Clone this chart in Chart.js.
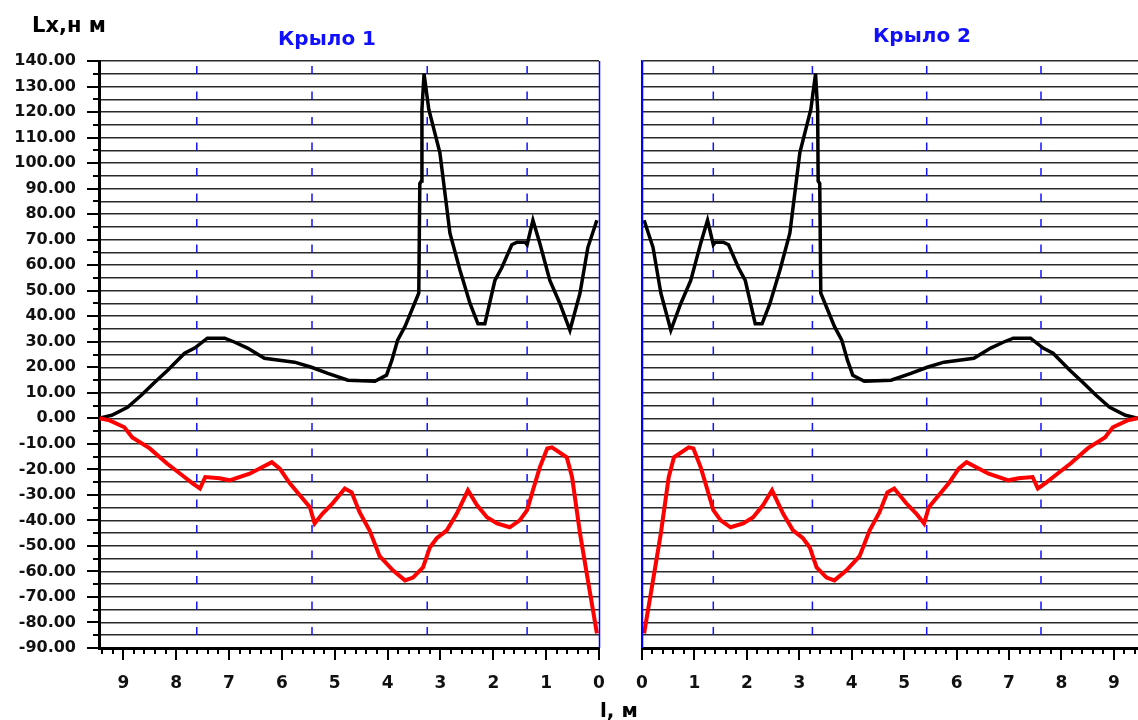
<!DOCTYPE html>
<html lang="ru">
<head>
<meta charset="UTF-8">
<title>Lx — Крыло 1 / Крыло 2</title>
<script src="https://cdn.jsdelivr.net/npm/chart.js"></script>
<style>
    body { margin: 0; background: #fff; font-family: 'DejaVu Sans', sans-serif; }
    .wrap { position: relative; width: 1138px; height: 720px; overflow: hidden; }
    #wing1 { position: absolute; left: 0; top: 0; }
    #wing2 { position: absolute; left: 600px; top: 0; }
    .lbl { position: absolute; font-weight: bold; line-height: 1; white-space: nowrap; }
    .title { color: #1010ff; font-size: 20px; transform: translateX(-50%); }
</style>
</head>
<body>
<div class="wrap">
    <canvas id="wing1" width="614" height="720"></canvas>
    <canvas id="wing2" width="538" height="720"></canvas>
    <div class="lbl" style="left:32px; top:15px; font-size:21px;">Lx,н м</div>
    <div class="lbl title" style="left:327px; top:28px;">Крыло 1</div>
    <div class="lbl title" style="left:922px; top:25px;">Крыло 2</div>
    <div class="lbl" style="left:600px; top:700px; font-size:20px;">l, м</div>
</div>
<script>
    // span position, m (tip at ~9.45, root at 0)
    const posUpper = [9.47, 9.22, 8.92, 8.66, 8.41, 8.16, 7.84, 7.65, 7.41, 7.08, 6.89, 6.65, 6.33, 5.76, 5.44,
        5.13, 4.75, 4.24, 4.02, 3.92, 3.81, 3.67, 3.52, 3.41, 3.39, 3.36, 3.35, 3.31, 3.22, 3.01, 2.82, 2.63,
        2.44, 2.29, 2.16, 1.97, 1.84, 1.65, 1.55, 1.40, 1.36, 1.25, 1.12, 0.93, 0.74, 0.55, 0.36, 0.21, 0.04];
    const lxUpper = [0, 1.2, 4.3, 9, 14, 18.8, 25.5, 27.5, 31.4, 31.4, 29.8, 27.5, 23.5, 22, 20,
        17.6, 14.9, 14.5, 16.9, 22.7, 30.6, 36, 43.5, 49, 92, 93, 121, 135, 121, 104, 72.5, 58,
        45, 37, 37, 54, 59, 68, 69, 69, 68, 77.6, 68.6, 54, 45, 34.5, 49, 67, 77.6];

    const posLower = [9.45, 9.26, 8.98, 8.83, 8.5, 8.18, 7.88, 7.69, 7.55, 7.45, 7.18, 6.99, 6.61, 6.19, 6.04,
        5.85, 5.47, 5.38, 5.23, 5.04, 4.81, 4.68, 4.53, 4.34, 4.15, 3.9, 3.67, 3.52, 3.33, 3.2, 3.07, 2.88,
        2.69, 2.48, 2.31, 2.12, 1.93, 1.69, 1.5, 1.36, 1.25, 1.12, 0.98, 0.89, 0.61, 0.51, 0.36, 0.21, 0.04];
    const lxLower = [0, -0.8, -3.5, -7.5, -11.8, -17.6, -22.4, -25.5, -27.5, -23, -23.5, -24.3, -21.7, -17.2, -19.7,
        -25.5, -34.8, -41.2, -37.3, -33.3, -27.5, -29, -36.8, -44, -54, -59.6, -63.5, -62.4, -58.4, -50.6, -47, -43.9,
        -37.3, -28.2, -34, -38.8, -41.2, -42.7, -40, -36, -28.2, -19.2, -11.8, -11.4, -15.3, -23, -45, -63.5, -84.3];

    // rib stations (dashed verticals)
    const stationPos = [1.36, 3.25, 5.43, 7.61];

    // axis ticks
    const xTickLabels = [0, 1, 2, 3, 4, 5, 6, 7, 8, 9];
    const xMin = 0, xMax = 9.46, xMinorStep = 0.2;
    const yMin = -90, yMax = 140, yStep = 5;

    const toPoints = (xs, ys) => xs.map((v, i) => ({ x: v, y: ys[i] }));

    // small tick marks on axes + blue root edge
    const axisMarks = {
        id: 'axisMarks',
        afterDraw(chart, args, opts) {
            const { ctx, chartArea: area, scales: { x, y } } = chart;
            ctx.save();
            ctx.strokeStyle = '#000';
            ctx.lineWidth = 2;
            ctx.beginPath();
            for (let i = 0; i * xMinorStep <= x.max + 1e-9; i++) {
                const px = Math.round(x.getPixelForValue(i * xMinorStep));
                const len = i % 5 === 0 ? 12 : 6;
                ctx.moveTo(px, area.bottom);
                ctx.lineTo(px, area.bottom + len);
            }
            if (opts.yTicks) {
                for (let v = yMin; v <= yMax; v += yStep) {
                    const py = Math.round(y.getPixelForValue(v));
                    const len = v % 10 === 0 ? 12 : 6;
                    ctx.moveTo(area.left, py);
                    ctx.lineTo(area.left - len, py);
                }
            }
            ctx.stroke();
            if (opts.edge) {
                const px = Math.round(x.getPixelForValue(0)) + 0.5;
                ctx.strokeStyle = '#0000ff';
                ctx.lineWidth = 1.5;
                ctx.beginPath();
                ctx.moveTo(px, area.top);
                ctx.lineTo(px, area.bottom);
                ctx.stroke();
            }
            ctx.restore();
        }
    };

    Chart.defaults.font.family = "'DejaVu Sans', sans-serif";
    Chart.defaults.color = '#111';

    function makeWing(id, leftSide) {
        const stationSets = stationPos.map(s => ({
            data: [{ x: s, y: yMax }, { x: s, y: yMin }],
            borderColor: '#1414ff',
            borderWidth: 1.5,
            borderDash: [8, 17.5],
            borderDashOffset: 20.5,
            pointRadius: 0,
            showLine: true,
            order: 10
        }));
        return new Chart(document.getElementById(id), {
            type: 'scatter',
            data: {
                datasets: [
                    {
                        data: toPoints(posUpper, lxUpper),
                        borderColor: '#000',
                        borderWidth: 3.5,
                        pointRadius: 0,
                        showLine: true,
                        tension: 0,
                        order: 1
                    },
                    {
                        data: toPoints(posLower, lxLower),
                        borderColor: '#ff0000',
                        borderWidth: 4,
                        pointRadius: 0,
                        showLine: true,
                        tension: 0,
                        order: 0
                    },
                    ...stationSets
                ]
            },
            options: {
                responsive: false,
                animation: false,
                layout: { padding: { top: 61, right: leftSide ? 15 : 0, bottom: 0, left: 0 } },
                plugins: {
                    legend: { display: false },
                    tooltip: { enabled: false },
                    axisMarks: { yTicks: leftSide, edge: true }
                },
                scales: {
                    x: {
                        type: 'linear',
                        min: xMin,
                        max: xMax,
                        reverse: leftSide,
                        afterBuildTicks: s => { s.ticks = xTickLabels.map(v => ({ value: v })); },
                        afterFit: s => {
                            s.height = 72;
                            s.paddingLeft = 0;
                            s.paddingRight = 0;
                        },
                        ticks: {
                            autoSkip: false,
                            maxRotation: 0,
                            padding: 25,
                            font: { size: 17, weight: 'bold' },
                            color: '#111'
                        },
                        grid: { drawOnChartArea: false, drawTicks: false },
                        border: { display: true, color: '#000', width: 3 }
                    },
                    y: {
                        min: yMin,
                        max: yMax,
                        afterFit: s => { s.width = leftSide ? 99 : 42; },
                        ticks: {
                            display: leftSide,
                            stepSize: yStep,
                            autoSkip: false,
                            padding: 23,
                            font: { size: 16, weight: 'bold' },
                            color: '#111',
                            callback: v => (v % 10 === 0 ? v.toFixed(2) : '')
                        },
                        grid: { color: '#2a2a2a', lineWidth: 1.5, drawTicks: false },
                        border: leftSide
                            ? { display: true, color: '#000', width: 3 }
                            : { display: true, color: '#0000ff', width: 1.5 }
                    }
                }
            },
            plugins: [axisMarks]
        });
    }

    makeWing('wing1', true);
    makeWing('wing2', false);
</script>
</body>
</html>
